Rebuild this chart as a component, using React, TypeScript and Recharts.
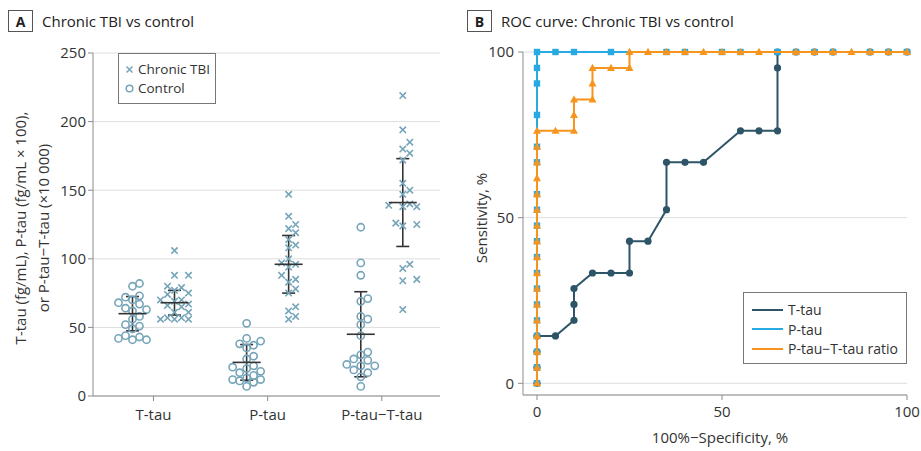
import { CartesianGrid, ComposedChart, ErrorBar, Scatter, XAxis, YAxis } from "recharts";

const FONT = '"Open Sans", "Noto Sans", sans-serif';
const TEXT = "#333";
const AXIS = "#8c8c8c";
const GRID = "#dedede";
const DOT = "#76a5b9";
const BAR = "#333";

// panel A: individual values
const groups = ["T-tau", "P-tau", "P-tau\u2212T-tau"];

const controlTTau = [82, 80, 73, 72, 70, 68, 67, 64, 63, 62, 58, 56, 52, 51, 49, 43, 42, 41, 41, 44];
const tbiTTau = [106, 88, 88, 80, 79, 77, 75, 74, 70, 70, 69, 67, 66, 65, 61, 61, 57, 56, 56, 56, 57];
const controlPTau = [53, 42, 40, 38, 37, 35, 29, 27, 22, 21, 20, 18, 17, 15, 13, 12, 11, 10, 12, 7];
const tbiPTau = [147, 131, 125, 122, 119, 114, 110, 108, 100, 97, 96, 94, 88, 85, 83, 78, 75, 65, 62, 58, 56];
const controlRatio = [123, 97, 88, 71, 69, 58, 56, 52, 44, 32, 30, 27, 26, 23, 22, 22, 19, 17, 14, 7];
const tbiRatio = [219, 194, 185, 180, 177, 172, 155, 150, 147, 140, 139, 138, 138, 126, 124, 125, 96, 93, 85, 84, 63];

// mean and SD per group
const controlMean = [60, 24.5, 45];
const controlSd = [12.5, 13, 31];
const tbiMean = [68, 96, 141];
const tbiSd = [9, 21, 32];

const yTicksA = [0, 50, 100, 150, 200, 250];

// panel B: ROC points (100% - specificity, sensitivity)
const ttauFpr = [0, 0, 0, 0, 5, 10, 10, 10, 15, 20, 25, 25, 30, 35, 35, 40, 45, 55, 60, 65, 65, 65, 70, 75, 80, 90, 95, 100];
const ttauSens = [0, 4.8, 9.5, 14.3, 14.3, 19.0, 23.8, 28.6, 33.3, 33.3, 33.3, 42.9, 42.9, 52.4, 66.7, 66.7, 66.7, 76.2, 76.2, 76.2, 95.2, 100, 100, 100, 100, 100, 100, 100];
const ptauFpr = [0, 0, 0, 0, 0, 0, 0, 0, 0, 0, 0, 0, 0, 0, 0, 0, 0, 0, 0, 5, 10, 20, 35, 40, 50, 55, 65, 70, 75, 80, 90, 95, 100];
const ptauSens = [0, 4.8, 9.5, 14.3, 19.0, 23.8, 28.6, 33.3, 38.1, 42.9, 47.6, 52.4, 57.1, 66.7, 71.4, 81.0, 90.5, 95.2, 100, 100, 100, 100, 100, 100, 100, 100, 100, 100, 100, 100, 100, 100, 100];
const ratioFpr = [0, 0, 0, 0, 0, 0, 0, 0, 0, 0, 0, 0, 0, 0, 0, 0, 0, 5, 10, 10, 10, 15, 15, 15, 20, 25, 25, 30, 35, 40, 45, 50, 55, 60, 70, 75, 80, 85, 90, 95, 100];
const ratioSens = [0, 4.8, 9.5, 14.3, 19.0, 23.8, 28.6, 33.3, 38.1, 42.9, 47.6, 52.4, 57.1, 61.9, 66.7, 71.4, 76.2, 76.2, 76.2, 81.0, 85.7, 85.7, 90.5, 95.2, 95.2, 95.2, 100, 100, 100, 100, 100, 100, 100, 100, 100, 100, 100, 100, 100, 100, 100];

const C_TTAU = "#2d5567";
const C_PTAU = "#27aae1";
const C_RATIO = "#f7941d";

// layout of panel A
const A_XDOM: [number, number] = [0.47, 3.51];
const A_PLOT_W = 347;
const A_PLOT_H = 343;
const PX_X = A_PLOT_W / (A_XDOM[1] - A_XDOM[0]);
const PX_Y = A_PLOT_H / 250;
const SIDE = 21 / PX_X;

// small beeswarm: horizontal pixel offsets so markers mostly don't overlap
function swarm(values: number[], step = 7, minDist = 7.5) {
  const order = values.map((_, i) => i).sort((a, b) => values[a] - values[b]);
  const placed: { x: number; y: number }[] = [];
  const out = new Array(values.length).fill(0);
  const cands = [0, step, -step, 2 * step, -2 * step];
  for (const i of order) {
    const y = values[i] * PX_Y;
    let best = 0;
    let bestD = -1;
    for (const off of cands) {
      const d = placed.reduce((m, p) => Math.min(m, Math.hypot(p.x - off, p.y - y)), Infinity);
      if (d >= minDist) {
        best = off;
        break;
      }
      if (d > bestD) {
        bestD = d;
        best = off;
      }
    }
    out[i] = best;
    placed.push({ x: best, y });
  }
  return out;
}

function pointRows(sets: number[][], side: number) {
  return sets.flatMap((vals, g) => {
    const offs = swarm(vals);
    return vals.map((v, i) => ({ x: g + 1 + side * SIDE + offs[i] / PX_X, y: v }));
  });
}

const controlRows = pointRows([controlTTau, controlPTau, controlRatio], -1);
const tbiRows = pointRows([tbiTTau, tbiPTau, tbiRatio], 1);
const controlSummary = controlMean.map((m, g) => ({ x: g + 1 - SIDE, y: m, sd: controlSd[g] }));
const tbiSummary = tbiMean.map((m, g) => ({ x: g + 1 + SIDE, y: m, sd: tbiSd[g] }));

const rocRows = (xs: number[], ys: number[]) => xs.map((x, i) => ({ x, y: ys[i] }));
const ttauRows = rocRows(ttauFpr, ttauSens);
const ptauRows = rocRows(ptauFpr, ptauSens);
const ratioRows = rocRows(ratioFpr, ratioSens);

const tickStyle = { fontSize: 15, fill: TEXT, fontFamily: FONT };

const Cross = (p: any) => {
  const r = 3.2;
  const { cx, cy } = p;
  return (
    <path
      d={`M${cx - r},${cy - r}L${cx + r},${cy + r}M${cx - r},${cy + r}L${cx + r},${cy - r}`}
      stroke={DOT}
      strokeWidth={1.6}
      fill="none"
    />
  );
};
const Ring = (p: any) => <circle cx={p.cx} cy={p.cy} r={3.6} stroke={DOT} strokeWidth={1.6} fill="none" />;
const MeanLine = (p: any) => (
  <line x1={p.cx - 14} x2={p.cx + 14} y1={p.cy} y2={p.cy} stroke={BAR} strokeWidth={1.6} />
);

const Dot = (p: any) => <circle cx={p.cx} cy={p.cy} r={3.6} fill={C_TTAU} />;
const Square = (p: any) => <rect x={p.cx - 3.2} y={p.cy - 3.2} width={6.4} height={6.4} fill={C_PTAU} />;
const Tri = (p: any) => (
  <path d={`M${p.cx},${p.cy - 4.2}L${p.cx + 4},${p.cy + 3}L${p.cx - 4},${p.cy + 3}Z`} fill={C_RATIO} />
);

const labelText = { fontSize: 15, fontFamily: FONT, fill: TEXT, textAnchor: "middle" as const, dominantBaseline: "central" as const };

function PanelTitle({ letter, text, left }: { letter: string; text: string; left: number }) {
  return (
    <div style={{ position: "absolute", left, top: 10, display: "flex", alignItems: "center", fontFamily: FONT }}>
      <div
        style={{
          width: 23,
          height: 20,
          border: "1px solid #555",
          display: "flex",
          alignItems: "center",
          justifyContent: "center",
          fontWeight: 700,
          fontSize: 14,
          color: "#222",
        }}
      >
        {letter}
      </div>
      <div style={{ marginLeft: 9, fontSize: 15, color: "#222" }}>{text}</div>
    </div>
  );
}

export default function App() {
  return (
    <div style={{ position: "relative", width: 921, height: 451, background: "#fff", overflow: "hidden" }}>
      <style>{"body{margin:0}"}</style>
      <PanelTitle letter="A" text="Chronic TBI vs control" left={8} />
      <PanelTitle letter="B" text="ROC curve: Chronic TBI vs control" left={467} />

      <div style={{ position: "absolute", left: 0, top: 0 }}>
        <ComposedChart width={460} height={451} margin={{ top: 53, right: 20, bottom: 25, left: 33 }}>
          <CartesianGrid vertical={false} stroke={GRID} />
          <XAxis
            type="number"
            dataKey="x"
            domain={A_XDOM}
            ticks={[1, 2, 3]}
            interval={0}
            tickFormatter={(v: number) => groups[v - 1]}
            tick={tickStyle}
            tickSize={5}
            tickMargin={8}
            stroke={AXIS}
            allowDataOverflow
          />
          <YAxis
            type="number"
            dataKey="y"
            domain={[0, 250]}
            ticks={yTicksA}
            interval={0}
            width={60}
            tick={tickStyle}
            tickSize={5}
            tickMargin={2}
            stroke={AXIS}
          />
          <Scatter data={controlRows} shape={Ring} isAnimationActive={false} />
          <Scatter data={tbiRows} shape={Cross} isAnimationActive={false} />
          <Scatter data={controlSummary} shape={MeanLine} isAnimationActive={false}>
            <ErrorBar dataKey="sd" direction="y" width={6.5} stroke={BAR} strokeWidth={1.6} isAnimationActive={false} />
          </Scatter>
          <Scatter data={tbiSummary} shape={MeanLine} isAnimationActive={false}>
            <ErrorBar dataKey="sd" direction="y" width={6.5} stroke={BAR} strokeWidth={1.6} isAnimationActive={false} />
          </Scatter>
        </ComposedChart>
      </div>

      <div
        style={{
          position: "absolute",
          left: 118,
          top: 53,
          width: 98,
          height: 51,
          border: "1px solid #777",
          background: "#fff",
          fontFamily: FONT,
          fontSize: 13.5,
          color: TEXT,
          boxSizing: "border-box",
          padding: "6px 0 0 5px",
          lineHeight: "19px",
          whiteSpace: "nowrap",
        }}
      >
        <div style={{ display: "flex", alignItems: "center" }}>
          <svg width={11} height={11} style={{ marginRight: 3 }}>
            <path d="M2.5,2.5L8.5,8.5M2.5,8.5L8.5,2.5" stroke={DOT} strokeWidth={1.5} />
          </svg>
          Chronic TBI
        </div>
        <div style={{ display: "flex", alignItems: "center" }}>
          <svg width={11} height={11} style={{ marginRight: 3 }}>
            <circle cx={5.5} cy={5.5} r={3.3} stroke={DOT} strokeWidth={1.5} fill="none" />
          </svg>
          Control
        </div>
      </div>

      <div style={{ position: "absolute", left: 460, top: 0 }}>
        <ComposedChart width={461} height={451} margin={{ top: 52, right: 14, bottom: 4, left: 13 }}>
          <CartesianGrid vertical={false} stroke={GRID} />
          <XAxis
            type="number"
            dataKey="x"
            domain={[-3.78, 100]}
            ticks={[0, 50, 100]}
            interval={0}
            height={52}
            tick={tickStyle}
            tickSize={5}
            tickMargin={6}
            stroke={AXIS}
          />
          <YAxis
            type="number"
            dataKey="y"
            domain={[-3.53, 100]}
            ticks={[0, 50, 100]}
            interval={0}
            width={50}
            tick={tickStyle}
            tickSize={5}
            tickMargin={4}
            stroke={AXIS}
          />
          <Scatter
            data={ttauRows}
            line={{ stroke: C_TTAU, strokeWidth: 2 }}
            lineJointType="linear"
            shape={Dot}
            isAnimationActive={false}
          />
          <Scatter
            data={ptauRows}
            line={{ stroke: C_PTAU, strokeWidth: 2 }}
            lineJointType="linear"
            shape={Square}
            isAnimationActive={false}
          />
          <Scatter
            data={ratioRows}
            line={{ stroke: C_RATIO, strokeWidth: 2 }}
            lineJointType="linear"
            shape={Tri}
            isAnimationActive={false}
          />
        </ComposedChart>
      </div>

      {/* axis titles */}
      <svg width={921} height={451} style={{ position: "absolute", left: 0, top: 0, pointerEvents: "none" }}>
        <text {...labelText} x={20} y={228} transform="rotate(-90 20 228)">
          T-tau (fg/mL), P-tau (fg/mL × 100),
        </text>
        <text {...labelText} x={43} y={228} transform="rotate(-90 43 228)">
          or P-tau−T-tau (×10 000)
        </text>
        <text {...labelText} x={481} y={218} transform="rotate(-90 481 218)">
          Sensitivity, %
        </text>
        <text {...labelText} x={720} y={437}>
          100%−Specificity, %
        </text>
      </svg>

      <div
        style={{
          position: "absolute",
          left: 743,
          top: 292,
          width: 164,
          height: 72,
          border: "1px solid #777",
          background: "#fff",
          fontFamily: FONT,
          fontSize: 14,
          color: TEXT,
          boxSizing: "border-box",
          padding: "7px 0 0 8px",
          lineHeight: "19.5px",
          whiteSpace: "nowrap",
        }}
      >
        {[
          ["T-tau", C_TTAU],
          ["P-tau", C_PTAU],
          ["P-tau\u2212T-tau ratio", C_RATIO],
        ].map(([name, c]) => (
          <div key={name} style={{ display: "flex", alignItems: "center" }}>
            <div style={{ width: 31, height: 2, background: c, marginRight: 5 }} />
            {name}
          </div>
        ))}
      </div>
    </div>
  );
}
